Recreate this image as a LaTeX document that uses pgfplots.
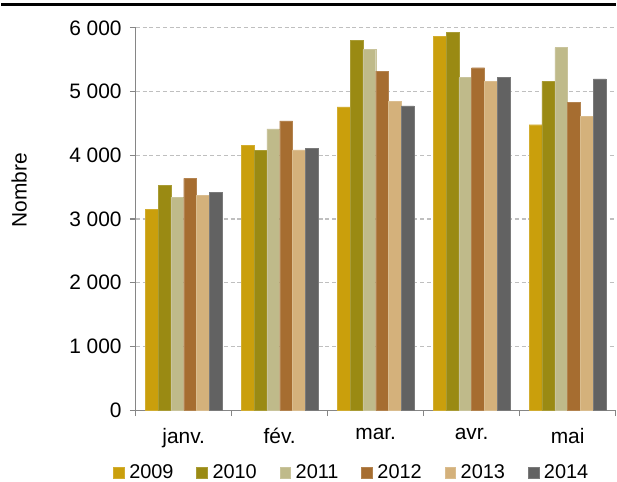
\documentclass[border=0pt]{standalone}
\usepackage{fontspec}
\setmainfont{Liberation Sans}
\usepackage{pgfplots}
\pgfplotsset{compat=1.18}

\definecolor{c2009}{HTML}{CA9F0C}
\definecolor{c2010}{HTML}{9A8A13}
\definecolor{c2011}{HTML}{BFBA8A}
\definecolor{c2012}{HTML}{A66D30}
\definecolor{c2013}{HTML}{D4B17B}
\definecolor{c2014}{HTML}{626262}
\definecolor{axgray}{HTML}{868686}
\definecolor{gridgray}{HTML}{BFBFBF}

\begin{document}
\fontsize{21}{24}\selectfont
\begin{tikzpicture}
\begin{axis}[
  name=ax,
  scale only axis, width=482pt, height=384pt,
  ybar=0pt, bar width=12.9pt,
  xmin=-0.5, xmax=4.5, ymin=0, ymax=6000,
  xtick={0,1,2,3,4},
  xticklabels={janv., fév., mar., avr., mai},
  major x tick style={draw=none},
  minor xtick={-0.5,0.5,1.5,2.5,3.5,4.5},
  minor tick length=6pt, major tick length=6pt,
  tick align=outside,
  tick style={axgray, line width=1.2pt},
  ytick={0,1000,...,6000},
  scaled y ticks=false,
  /pgf/number format/1000 sep={\ },
  /pgf/number format/assume math mode=true,
  ymajorgrids, grid style={gridgray, line width=1.2pt, dash pattern=on 4pt off 2.8pt},
  axis x line*=bottom, axis y line*=left,
  axis line style={axgray, line width=1.3pt, -},
  ticklabel style={font=\fontsize{21}{24}\selectfont},
  xticklabel style={yshift=-5pt},
  yticklabel style={xshift=-1pt},
  ylabel={Nombre},
  ylabel style={at={(axis description cs:-0.243,0.576)}, anchor=center, font=\fontsize{21}{24}\selectfont},
  legend columns=6,
  legend style={draw=none, fill=none, inner sep=0pt, nodes={inner sep=0pt},
    font=\fontsize{20}{24}\selectfont,
    at={(axis description cs:0.448,-0.164)}, anchor=center,
    /tikz/every even column/.append style={column sep=23pt},
    /tikz/every odd column/.append style={column sep=5pt}},
  legend image code/.code={\fill[#1] (0pt,-5.3pt) rectangle (10.7pt,5.3pt);},
]
\addplot[fill=c2009, draw=c2009!85!white] coordinates {(0,3150) (1,4160) (2,4760) (3,5870) (4,4480)};
\addplot[fill=c2010, draw=c2010!85!white] coordinates {(0,3530) (1,4075) (2,5805) (3,5935) (4,5160)};
\addplot[fill=c2011, draw=c2011!85!white] coordinates {(0,3345) (1,4415) (2,5660) (3,5220) (4,5690)};
\addplot[fill=c2012, draw=c2012!85!white] coordinates {(0,3640) (1,4540) (2,5320) (3,5375) (4,4830)};
\addplot[fill=c2013, draw=c2013!85!white] coordinates {(0,3370) (1,4085) (2,4845) (3,5160) (4,4610)};
\addplot[fill=c2014, draw=c2014!85!white] coordinates {(0,3415) (1,4110) (2,4775) (3,5220) (4,5200)};
\legend{2009,2010,2011,2012,2013,2014}
\end{axis}
\draw[line width=2.7pt] ([shift={(-135pt,407.5pt)}]ax.south west) -- ++(617pt,0pt);
\useasboundingbox ([shift={(-135pt,-69pt)}]ax.south west) rectangle ++(617pt,481pt);
\end{tikzpicture}
\end{document}
